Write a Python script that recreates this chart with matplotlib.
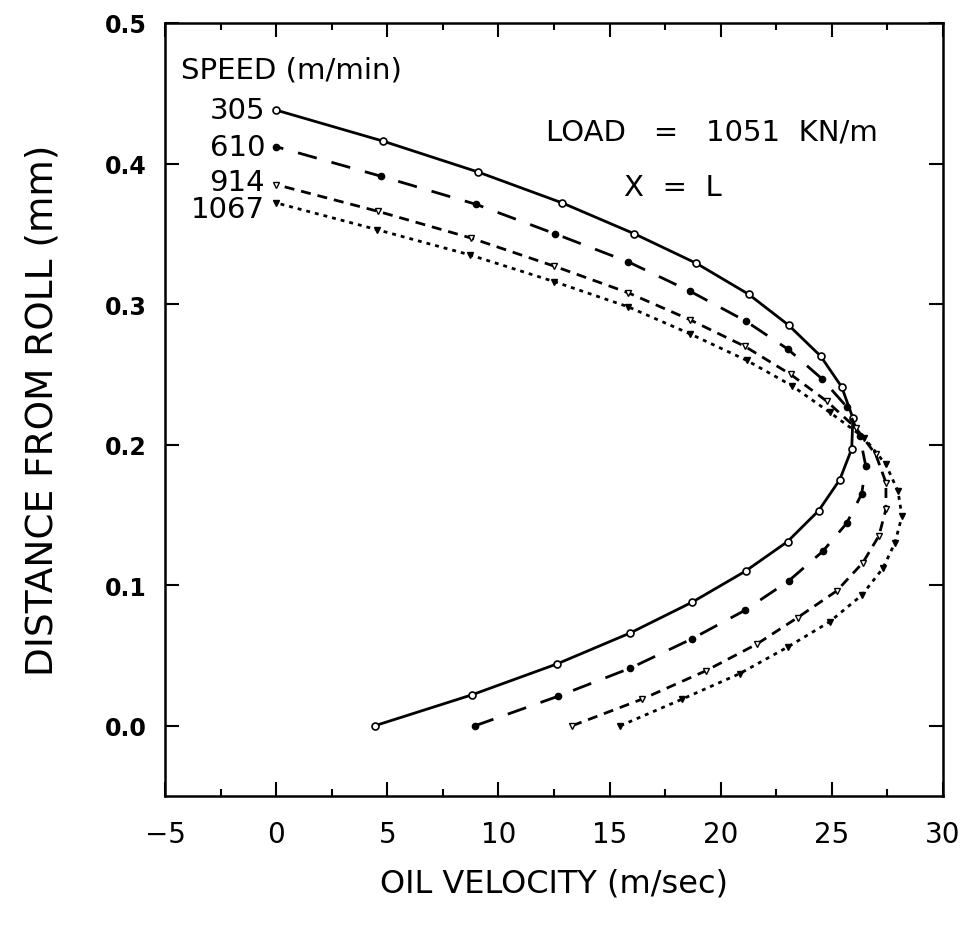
import numpy as np
import matplotlib
matplotlib.use("Agg")
import matplotlib.pyplot as plt
from matplotlib.ticker import MultipleLocator

# speed labels (m/min)
speeds = ['305', '610', '914', '1067']

# oil velocity (m/sec), bottom (roll) to top
u305 = [4.44, 8.81, 12.64, 15.93, 18.73, 21.12, 23.01, 24.41, 25.36, 25.90, 25.95,
        25.45, 24.50, 23.06, 21.26, 18.91, 16.12, 12.87, 9.08, 4.80, 0.0]
u610 = [8.95, 12.69, 15.94, 18.73, 21.08, 23.06, 24.59, 25.67, 26.35, 26.53, 26.26,
        25.67, 24.55, 23.02, 21.12, 18.64, 15.85, 12.55, 8.99, 4.71, 0.0]
u914 = [13.32, 16.48, 19.32, 21.62, 23.47, 25.23, 26.40, 27.12, 27.44, 27.44, 26.98,
        26.08, 24.77, 23.15, 21.08, 18.60, 15.85, 12.51, 8.77, 4.58, 0.0]
u1067 = [15.49, 18.28, 20.85, 23.02, 24.91, 26.36, 27.30, 27.84, 28.16, 27.98, 27.43,
         26.45, 24.91, 23.20, 21.17, 18.60, 15.85, 12.51, 8.72, 4.53, 0.0]

# distance from roll (mm)
y305 = [0.000, 0.022, 0.044, 0.066, 0.088, 0.110, 0.131, 0.153, 0.175, 0.197, 0.219,
        0.241, 0.263, 0.285, 0.307, 0.329, 0.350, 0.372, 0.394, 0.416, 0.438]
y610 = [0.000, 0.021, 0.041, 0.062, 0.082, 0.103, 0.124, 0.144, 0.165, 0.185, 0.206,
        0.227, 0.247, 0.268, 0.288, 0.309, 0.330, 0.350, 0.371, 0.391, 0.412]
y914 = [0.000, 0.019, 0.039, 0.058, 0.077, 0.096, 0.116, 0.135, 0.154, 0.173, 0.193,
        0.212, 0.231, 0.250, 0.270, 0.289, 0.308, 0.327, 0.347, 0.366, 0.385]
y1067 = [0.000, 0.019, 0.037, 0.056, 0.074, 0.093, 0.112, 0.130, 0.149, 0.167, 0.186,
         0.205, 0.223, 0.242, 0.260, 0.279, 0.298, 0.316, 0.335, 0.353, 0.372]

fig = plt.figure(figsize=(9.71, 9.37), dpi=100)
ax = fig.add_axes([0.170, 0.1494, 0.801, 0.825])

lw = 2.0
# solid, open circles
ax.plot(u305, y305, color='black', lw=lw, marker='o', ms=5,
        mfc='white', mec='black', mew=1.2)
# long dash, filled circles
ax.plot(u610, y610, color='black', lw=lw, dashes=(7, 5.5), marker='o', ms=4.5,
        mfc='black', mec='black')
# short dash, open triangles
ax.plot(u914, y914, color='black', lw=lw, dashes=(3.6, 2.5), marker='v', ms=5,
        mfc='white', mec='black', mew=1.0)
# dotted, filled triangles
ax.plot(u1067, y1067, color='black', lw=lw, dashes=(1.4, 1.8), marker='v', ms=5,
        mfc='black', mec='black')

ax.set_xlim(-5, 30)
ax.set_ylim(-0.05, 0.5)
ax.xaxis.set_major_locator(MultipleLocator(5))
ax.xaxis.set_minor_locator(MultipleLocator(2.5))
ax.set_yticks([0.0, 0.1, 0.2, 0.3, 0.4, 0.5])
ax.set_yticklabels(['0.0', '0.1', '0.2', '0.3', '0.4', '0.5'], fontweight='bold')
ax.tick_params(which='both', direction='in', top=True, right=True, width=1.5)
ax.tick_params(which='major', length=10)
ax.tick_params(which='minor', length=5)
ax.tick_params(axis='x', labelsize=20, pad=17)
ax.tick_params(axis='y', labelsize=17, pad=13)
for s in ax.spines.values():
    s.set_linewidth(1.8)

ax.set_xlabel('OIL VELOCITY (m/sec)', fontsize=23, labelpad=14)
ax.set_ylabel('DISTANCE FROM ROLL (mm)', fontsize=27, labelpad=32)

# annotations
fs = 21
ax.text(-4.3, 0.467, 'SPEED (m/min)', fontsize=fs, ha='left', va='center')
ax.text(-0.5, y305[-1], speeds[0], fontsize=fs, ha='right', va='center')
ax.text(-0.5, y610[-1], speeds[1], fontsize=fs, ha='right', va='center')
ax.text(-0.5, y914[-1] + 0.002, speeds[2], fontsize=fs, ha='right', va='center')
ax.text(-0.5, y1067[-1] - 0.004, speeds[3], fontsize=fs, ha='right', va='center')
ax.text(12.15, 0.4225, 'LOAD   =   1051  KN/m', fontsize=fs, ha='left', va='center')
ax.text(15.67, 0.3835, 'X  =  L', fontsize=fs, ha='left', va='center')

fig.savefig('out.png', dpi=100)
